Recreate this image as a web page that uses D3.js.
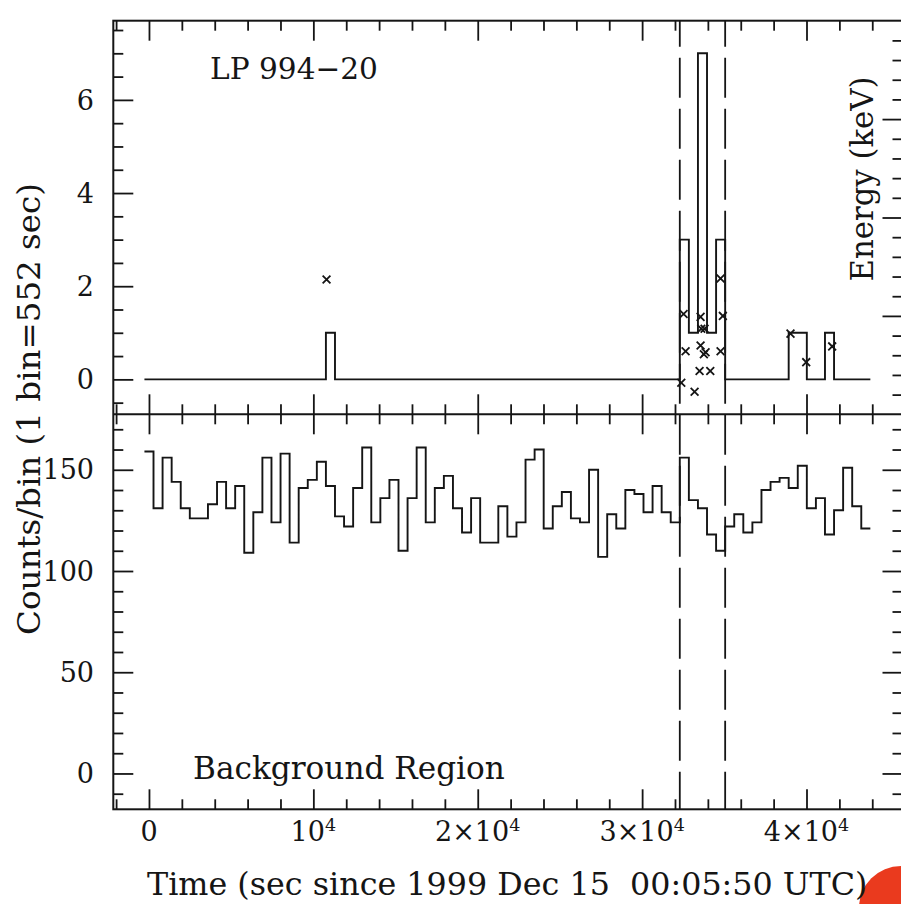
<!DOCTYPE html>
<html>
<head>
<meta charset="utf-8">
<script src="https://cdn.jsdelivr.net/npm/d3@7"></script>
<style>
  html, body { margin: 0; padding: 0; background: #fff; }
  svg { display: block; }
  text { font-family: "DejaVu Serif", serif; fill: #151515; white-space: pre; }
</style>
</head>
<body>
<svg id="chart" width="901" height="904"></svg>
<script>
// Light curve of LP 994-20: source photons (top) and background counts (bottom), 552 s bins.
const BIN_SEC = 552;
const BIN_START = -276;
const N_BINS = 80;

// Source-region photons: arrival time (s) and energy (keV)
const photonTimes = [10802, 32383, 32523, 32644, 33191, 33556, 33599, 33799, 33556, 33757,
                     33860, 33495, 34146, 34772, 34912, 34772, 39027, 39982, 41562];
const photonEnergies = [1.37, 0.32, 1.02, 0.64, 0.23, 0.99, 0.87, 0.87, 0.70, 0.61,
                        0.63, 0.44, 0.44, 1.38, 1.00, 0.64, 0.82, 0.53, 0.69];

// Background-region counts per bin
const backgroundCounts = [
  159,131,156,144,131,126,126,133,144,131,
  142,109,129,156,124,158,114,141,145,154,
  142,127,122,141,161,124,136,145,110,136,
  161,124,141,147,131,119,136,114,114,132,
  117,124,155,160,121,132,139,126,124,150,
  107,128,121,140,138,129,142,129,124,156,
  135,131,118,110,122,128,119,124,140,144,
  146,141,152,131,136,118,130,151,132,121
];

// Flare interval (bin edges) marked by dashed lines
const flareBins = [59, 64];

// Tick labels
const timeTicks = [0, 1e4, 2e4, 3e4, 4e4];
const timeTickLabels = [["0", ""], ["10", "4"], ["2×10", "4"], ["3×10", "4"], ["4×10", "4"]];
const sourceTicks = [0, 2, 4, 6];
const backgroundTicks = [0, 50, 100, 150];

// ---- geometry ----
const L = 113.3, R = 902.5, T = 20.7, MID = 414.3, B = 809.3;

const svg = d3.select("#chart");
const ink = "#151515";

const x = d3.scaleLinear().domain([-2170, 45840]).range([L, R]);
const yTop = d3.scaleLinear().domain([-0.75, 7.7]).range([MID, T]);
const yEnergy = d3.scaleLinear().domain([0, 4]).range([MID, T]);
const yBot = d3.scaleLinear().domain([-17.7, 177.4]).range([B, MID]);

const edges = d3.range(N_BINS + 1).map(i => BIN_START + i * BIN_SEC);

// Source counts from the photon list
const sourceCounts = new Array(N_BINS).fill(0);
photonTimes.forEach(t => {
  const k = Math.floor((t - BIN_START) / BIN_SEC);
  if (k >= 0 && k < N_BINS) sourceCounts[k] += 1;
});

// Step outline for a per-bin series
function stepPoints(counts) {
  const pts = counts.map((c, i) => [edges[i], c]);
  pts.push([edges[N_BINS], counts[N_BINS - 1]]);
  return pts;
}

// corner mark (behind the axis title)
svg.append("circle").attr("cx", 901).attr("cy", 908).attr("r", 42).attr("fill", "#ea3a1e");

// ---- ticks ----
function tickGroup(axisFn, scale, values, size, tx, ty) {
  const g = svg.append("g")
    .attr("transform", `translate(${tx},${ty})`)
    .call(axisFn(scale).tickValues(values).tickSize(size).tickFormat(""));
  g.select(".domain").remove();
  g.selectAll("line").attr("stroke", ink).attr("stroke-width", 1.8);
  return g;
}

const xMinor = d3.range(-2000, 45500, 2000).filter(v => v % 10000 !== 0);
[[d3.axisTop, B], [d3.axisBottom, T], [d3.axisTop, MID], [d3.axisBottom, MID]].forEach(([fn, ty]) => {
  tickGroup(fn, x, timeTicks, 20, 0, ty);
  tickGroup(fn, x, xMinor, 10, 0, ty);
});

const topMinor = d3.range(-1, 16).map(i => i * 0.5).filter(v => v % 2 !== 0 && v < 7.7);
tickGroup(d3.axisRight, yTop, sourceTicks, 20, L, 0);
tickGroup(d3.axisRight, yTop, topMinor, 10, L, 0);

const eMajor = [1, 2, 3];
const eMinor = d3.range(1, 20).map(i => i * 0.2).filter((v, i) => (i + 1) % 5 !== 0);
tickGroup(d3.axisLeft, yEnergy, eMajor, 20, R, 0);
tickGroup(d3.axisLeft, yEnergy, eMinor, 10, R, 0);

const botMinor = d3.range(-1, 18).map(i => i * 10).filter(v => v % 50 !== 0);
[[d3.axisRight, L], [d3.axisLeft, R]].forEach(([fn, tx]) => {
  tickGroup(fn, yBot, backgroundTicks, 20, tx, 0);
  tickGroup(fn, yBot, botMinor, 10, tx, 0);
});

// ---- frame ----
svg.append("rect")
  .attr("x", L).attr("y", T).attr("width", R - L).attr("height", B - T)
  .attr("fill", "none").attr("stroke", ink).attr("stroke-width", 2);
svg.append("line")
  .attr("x1", L).attr("x2", R).attr("y1", MID).attr("y2", MID)
  .attr("stroke", ink).attr("stroke-width", 2);

// ---- histograms ----
svg.append("path")
  .attr("d", d3.line().x(d => x(d[0])).y(d => yTop(d[1])).curve(d3.curveStepAfter)(stepPoints(sourceCounts)))
  .attr("fill", "none").attr("stroke", ink).attr("stroke-width", 1.9);

svg.append("path")
  .attr("d", d3.line().x(d => x(d[0])).y(d => yBot(d[1])).curve(d3.curveStepAfter)(stepPoints(backgroundCounts)))
  .attr("fill", "none").attr("stroke", ink).attr("stroke-width", 1.9);

// ---- photon energies ----
const s = 3.9;
svg.append("g").selectAll("path")
  .data(photonTimes.map((t, i) => [t, photonEnergies[i]]))
  .join("path")
  .attr("d", d => {
    const px = x(d[0]), py = yEnergy(d[1]);
    return `M${px - s},${py - s}L${px + s},${py + s}M${px - s},${py + s}L${px + s},${py - s}`;
  })
  .attr("stroke", ink).attr("stroke-width", 1.8).attr("fill", "none");

// ---- flare interval ----
svg.append("g").selectAll("line")
  .data(flareBins.map(k => edges[k]))
  .join("line")
  .attr("x1", d => x(d)).attr("x2", d => x(d))
  .attr("y1", T).attr("y2", B)
  .attr("stroke", ink).attr("stroke-width", 1.8)
  .attr("stroke-dasharray", "40,11").attr("stroke-dashoffset", 14);

// ---- tick labels ----
const FS = 27;
svg.append("g").selectAll("text")
  .data(sourceTicks).join("text")
  .attr("x", 94).attr("y", d => yTop(d)).attr("dy", "0.36em")
  .attr("text-anchor", "end").attr("font-size", FS).text(d => d);

svg.append("g").selectAll("text")
  .data(backgroundTicks).join("text")
  .attr("x", 94).attr("y", d => yBot(d)).attr("dy", "0.36em")
  .attr("text-anchor", "end").attr("font-size", FS).text(d => d);

const xl = svg.append("g").selectAll("text")
  .data(timeTicks.map((t, i) => [t, timeTickLabels[i]])).join("text")
  .attr("x", d => x(d[0])).attr("y", 841)
  .attr("text-anchor", "middle").attr("font-size", FS);
xl.append("tspan").text(d => d[1][0]);
xl.append("tspan").attr("font-size", FS * 0.65).attr("dy", -10).text(d => d[1][1]);

// ---- titles ----
function fitWidth(sel, target) {
  const w = sel.node().getComputedTextLength();
  const fs = parseFloat(sel.attr("font-size"));
  sel.attr("font-size", fs * target / w);
}

const lp = svg.append("text").attr("x", 210).attr("y", 79).attr("font-size", 28).text("LP 994−20");
fitWidth(lp, 168);

const bg = svg.append("text").attr("x", 193).attr("y", 779).attr("font-size", 28).text("Background Region");
fitWidth(bg, 312);

const xt = svg.append("text").attr("x", 147).attr("y", 895).attr("font-size", 28)
  .text("Time (sec since 1999 Dec 15  00:05:50 UTC)");
fitWidth(xt, 721);

const yl = svg.append("text")
  .attr("transform", "translate(40,409) rotate(-90)")
  .attr("text-anchor", "middle").attr("font-size", 28)
  .text("Counts/bin (1 bin=552 sec)");
fitWidth(yl, 452);

const el = svg.append("text")
  .attr("transform", "translate(873,179) rotate(-90)")
  .attr("text-anchor", "middle").attr("font-size", 28)
  .text("Energy (keV)");
fitWidth(el, 205);
</script>
</body>
</html>
